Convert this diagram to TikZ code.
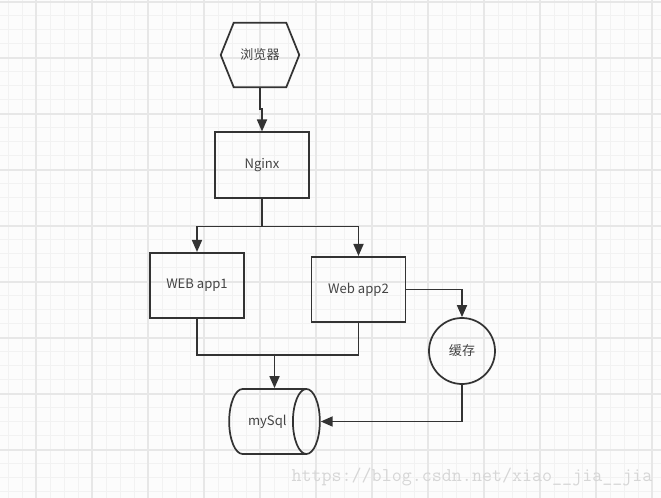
\documentclass[tikz,border=0pt]{standalone}
\usepackage{fontspec}
\setmainfont{Noto Sans CJK SC}
\usetikzlibrary{arrows.meta,calc,positioning,shapes.geometric}
\definecolor{ink}{HTML}{333333}
\definecolor{txt}{HTML}{444444}
\definecolor{paper}{HTML}{FCFCFC}
\definecolor{gridminor}{HTML}{F2F2F2}
\definecolor{gridmajor}{HTML}{E7E7E7}
\definecolor{mark}{HTML}{D6D6D6}
\begin{document}
\begin{tikzpicture}
	[
	x=0.75pt, y=-0.75pt,
  > = {Triangle[length=9pt,width=7.5pt]},
  line/.style = {draw=ink, line width=1.3pt},
  minor/.style = {draw=gridminor, line width=0.75pt},
  major/.style = {draw=gridmajor, line width=0.9pt},
  label/.style = {text=txt, font=\fontsize{9.8}{11}\selectfont, inner sep=0pt},
  box/.style = {line, label, rectangle, minimum width=70.5pt, minimum height=49pt},
  hexbox/.style = {label, rectangle, minimum width=39pt, minimum height=48pt},
  store/.style = {line, label, circle, minimum size=49.5pt},
  db/.style = {line, label, cylinder, shape aspect=2, minimum height=68pt, minimum width=48.75pt}
  ]
	\useasboundingbox (0,0) rectangle (661,498);
	\fill[paper] (0,0) rectangle (661,498);
	\foreach \x in {8,22,...,652} \draw[minor] (\x,0) -- (\x,498);
	\foreach \y in {2,16,...,496} \draw[minor] (0,\y) -- (661,\y);
	\foreach \x in {36,92,...,652} \draw[major] (\x,0) -- (\x,498);
	\foreach \y in {2,58,...,496} \draw[major] (0,\y) -- (661,\y);

	\coordinate (b) at (260,55);
	\coordinate (n) at (262,165);
	\coordinate (a1) at (197,285.5);
	\coordinate (a2) at (358.5,289.5);
	\coordinate (c) at (462,351);
	\coordinate (m) at (274.5,421.5);

	\node[hexbox] (browser) at (b) {浏览器};
	\draw[line] (browser.north west) -- (browser.north east) -- ($(browser.east)+(13,0)$) -- (browser.south east) -- (browser.south west) -- ($(browser.west)+(-13,0)$) -- cycle;
	\node[box] (nginx) at (n) {Nginx};
	\node[box] (app1) at (a1) {WEB app1};
	\node[box] (app2) at (a2) {Web app2};
	\node[store] (cache) at (c) {缓存};
	\node[db, anchor=shape center] (mysql) at (m) {mySql};

	\draw[line,->] (browser.south) -- ++(0,22) -| (nginx.north);
	\draw[line,->] (nginx.south) -- ++(0,28) coordinate (split) -| (app1.north);
	\draw[line,->] (split) -| (app2.north);
	\draw[line,->] (app2.east) -| (cache.north);
	\draw[line] (app1.south) -- ++(0,36) coordinate (join) -| (app2.south);
	\draw[line,->] (join -| m) -- (m |- mysql.north);
	\draw[line,->] (cache.south) |- (mysql.east);

	\node[text=mark, font=\ttfamily\fontsize{14.6}{16}\selectfont, inner sep=0pt] (site) at (472,477) {https://blog.csdn.net/xiao\_\_jia\_\_jia};
	\end{tikzpicture}
\end{document}
